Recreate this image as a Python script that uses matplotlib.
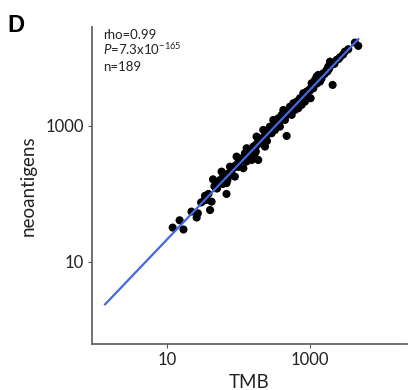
import matplotlib
matplotlib.use("Agg")
import matplotlib.pyplot as plt
import numpy as np

plt.rcParams['font.family'] = ['Lato', 'DejaVu Sans']
plt.rcParams['mathtext.fontset'] = 'custom'
plt.rcParams['mathtext.rm'] = 'Lato'
plt.rcParams['mathtext.it'] = 'Lato:italic'

# TMB vs predicted neoantigens
tmb = [12, 15, 17, 27, 26, 34, 36, 40, 42, 44, 47, 52, 58, 61, 68, 68, 76, 80, 89, 94,
       99, 111, 117, 123, 130, 145, 153, 161, 170, 179, 189, 200, 211, 222, 235, 248,
       275, 291, 307, 324, 342, 361, 380, 402, 424, 447, 472, 498, 525, 555, 585, 617,
       650, 687, 724, 764, 807, 851, 898, 1021, 1054, 1114, 1175, 1239, 1307, 1380,
       1535, 1710, 1803, 1905, 2009, 2075, 2360, 2630, 3083, 3436, 4256, 4742,
       85, 90, 100, 100, 105, 115, 125, 125, 135, 140, 150, 150, 160, 165, 175, 175,
       185, 195, 195, 205, 215, 215, 230, 230, 240, 255, 255, 265, 280, 280, 300, 300,
       315, 330, 330, 350, 370, 370, 390, 410, 410, 435, 460, 460, 490, 510, 510, 540,
       570, 570, 600, 630, 630, 670, 700, 700, 750, 800, 800, 850, 900, 900, 950, 1000,
       1000, 1080, 1150, 1250, 1250, 1350, 1450, 1450, 1600, 1750, 1850, 2200, 2500, 2900,
       130, 175, 250, 60, 70, 22, 30, 33, 38, 46, 50, 55, 65, 72, 78]
neoantigens = [32, 41, 30, 52, 45, 94, 82, 58, 77, 164, 128, 147, 213, 180, 144, 100, 252,
               190, 180, 354, 283, 316, 239, 396, 470, 420, 316, 497, 396, 697, 316, 556,
               622, 873, 497, 738, 977, 780, 1225, 873, 1094, 1297, 977, 1452, 1718, 1225,
               713, 1626, 1923, 1452, 2158, 1718, 2280, 1820, 2553, 2037, 3027, 2280, 3199,
               2553, 4246, 3581, 4753, 5321, 5623, 4487, 5957, 6668, 7464, 8831, 7889, 4009,
               9354, 10230, 12390, 13430, 16820, 15030,
               240, 260, 290, 250, 310, 340, 370, 330, 410, 380, 450, 430, 470, 455, 530, 500,
               560, 590, 570, 620, 660, 640, 700, 680, 740, 800, 760, 820, 870, 840, 940, 900,
               990, 1040, 1000, 1110, 1180, 1130, 1250, 1320, 1260, 1400, 1490, 1430, 1580,
               1680, 1600, 1780, 1880, 1800, 1990, 2100, 2010, 2250, 2360, 2240, 2540, 2720,
               2600, 2900, 3100, 2950, 3280, 3480, 3300, 3800, 4050, 4450, 4200, 4800, 5200,
               4950, 5800, 6300, 6900, 8200, 9600, 11200,
               300, 420, 600, 140, 160, 55, 75, 80, 100, 130, 120, 160, 190, 200, 210]
line_start = 1.36

tmb = np.array(tmb, dtype=float)
neoantigens = np.array(neoantigens, dtype=float)

fig = plt.figure(figsize=(4.09, 3.9), dpi=100)
ax = fig.add_axes([0.225, 0.118, 0.77, 0.813])

ax.scatter(tmb, neoantigens, s=34, color='black', edgecolors='none', zorder=2)

# linear fit in log-log space
slope, icpt = np.polyfit(np.log10(tmb), np.log10(neoantigens), 1)
xl = np.array([line_start, tmb.max()])
ax.plot(xl, 10 ** (icpt + slope * np.log10(xl)), color='#4169e1', lw=1.6, zorder=3)

ax.set_xscale('log')
ax.set_yscale('log')
ax.set_xlim(0.893, 22750)
ax.set_ylim(0.622, 28580)
ax.set_xticks([10, 1000])
ax.set_xticklabels(['10', '1000'])
ax.set_yticks([10, 1000])
ax.set_yticklabels(['10', '1000'])
ax.minorticks_off()
ax.tick_params(labelsize=12, length=3, width=0.8, color='#555555', labelcolor='#222222', pad=3)

for s in ['top', 'right']:
    ax.spines[s].set_visible(False)
for s in ['left', 'bottom']:
    ax.spines[s].set_color('#666666')
    ax.spines[s].set_linewidth(1.3)

ax.set_xlabel('TMB', fontsize=13.5, color='#222222', labelpad=4)
ax.set_ylabel('neoantigens', fontsize=13.5, color='#222222', labelpad=6)

ax.text(0.035, 0.961, 'rho=0.99', transform=ax.transAxes, fontsize=9.5, va='baseline', color='#222222')
ax.text(0.035, 0.912, r'$\mathit{P}$=7.3x10$^{\mathrm{-165}}$', transform=ax.transAxes,
        fontsize=9.5, va='baseline', color='#222222')
ax.text(0.035, 0.860, 'n=189', transform=ax.transAxes, fontsize=9.5, va='baseline', color='#222222')

fig.text(0.018, 0.965, 'D', fontsize=17, fontweight='bold', family='Liberation Sans', va='top')

fig.savefig('out.png', dpi=100)
